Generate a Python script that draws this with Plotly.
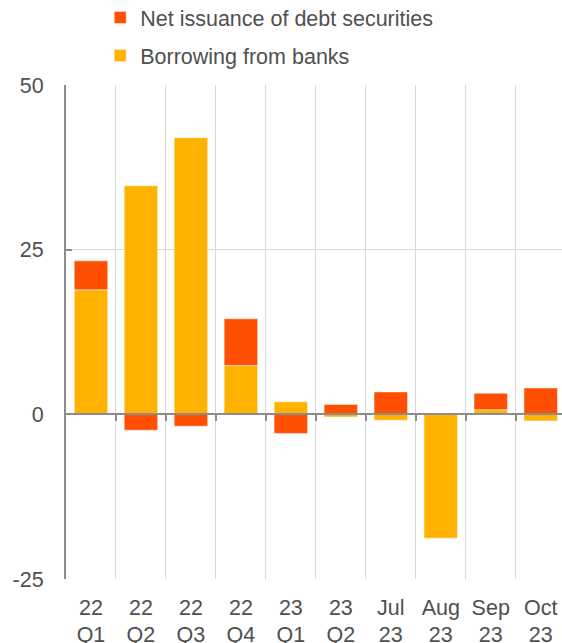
import plotly.graph_objects as go

# Period labels (two-line tick text)
periods = ["22<br>Q1", "22<br>Q2", "22<br>Q3", "22<br>Q4", "23<br>Q1",
           "23<br>Q2", "Jul<br>23", "Aug<br>23", "Sep<br>23", "Oct<br>23"]

# Financing flows by source
borrowing_from_banks = [18.9, 34.7, 42.0, 7.4, 1.9, -0.4, -0.9, -18.8, 0.7, -1.0]
net_debt_issuance = [4.4, -2.4, -1.8, 7.1, -2.9, 1.5, 3.4, 0.1, 2.5, 4.0]

y_ticks = [-25, 0, 25, 50]
y_tick_text = ["-25", "0", "25", "50"]

RED = "#FF4F00"
YELLOW = "#FFB300"
AXIS = "#8c8c8c"
GRID = "#d9d9d9"
TEXT = "#505050"
FONT = "Liberation Sans, Arial, sans-serif"

fig = go.Figure()
fig.add_trace(go.Bar(
    x=periods, y=borrowing_from_banks, name="Borrowing from banks",
    marker=dict(color=YELLOW, line=dict(color="rgba(255,255,255,0.6)", width=0.8)),
    width=0.67, legendgroup="b", legendrank=2,
))
fig.add_trace(go.Bar(
    x=periods, y=net_debt_issuance, name="Net issuance of debt securities",
    marker=dict(color=RED, line=dict(color="rgba(255,255,255,0.6)", width=0.8)),
    width=0.67, legendgroup="a", legendrank=1,
))

n = len(periods)
right_edge = -0.5 + (562 - 65.7) / 50.0

fig.update_layout(
    width=562, height=643,
    barmode="relative",
    paper_bgcolor="white", plot_bgcolor="white",
    margin=dict(l=66, r=0, t=85, b=64, autoexpand=False),
    font=dict(family=FONT, size=21.5, color=TEXT),
    showlegend=True,
    legend=dict(
        x=0.069, xanchor="left", y=1.178, yanchor="top",
        traceorder="grouped", tracegroupgap=7,
        font=dict(size=21.5, color=TEXT), bgcolor="rgba(0,0,0,0)",
    ),
    xaxis=dict(
        type="category", range=[-0.5, right_edge], automargin=False,
        tickson="boundaries", showgrid=True, gridcolor=GRID, gridwidth=1,
        ticks="", showline=False, zeroline=False,
        tickfont=dict(size=21.5, color=TEXT), ticklabelstandoff=13,
    ),
    xaxis2=dict(
        overlaying="x", anchor="free", position=1 / 3,
        range=[-0.5, right_edge], showgrid=False, zeroline=False,
        showline=True, linecolor=AXIS, linewidth=2,
        tickmode="array", tickvals=[i + 0.5 for i in range(n - 1)],
        ticks="outside", ticklen=6, tickwidth=2, tickcolor=AXIS,
        showticklabels=False,
    ),
    yaxis=dict(
        range=[-25, 50], tickvals=y_ticks, ticktext=y_tick_text,
        showgrid=True, gridcolor=GRID, automargin=False,
        zeroline=False, showline=True, linecolor=AXIS, linewidth=2,
        ticks="inside", ticklen=6, tickwidth=2, tickcolor=AXIS,
        tickfont=dict(size=21.5, color=TEXT), ticklabelstandoff=16,
    ),
)

# Invisible helper trace so the zero-line axis is drawn
fig.add_trace(go.Scatter(x=[0], y=[0], xaxis="x2", mode="markers",
                         marker=dict(opacity=0), showlegend=False, hoverinfo="skip"))

fig.write_html("out.html")
